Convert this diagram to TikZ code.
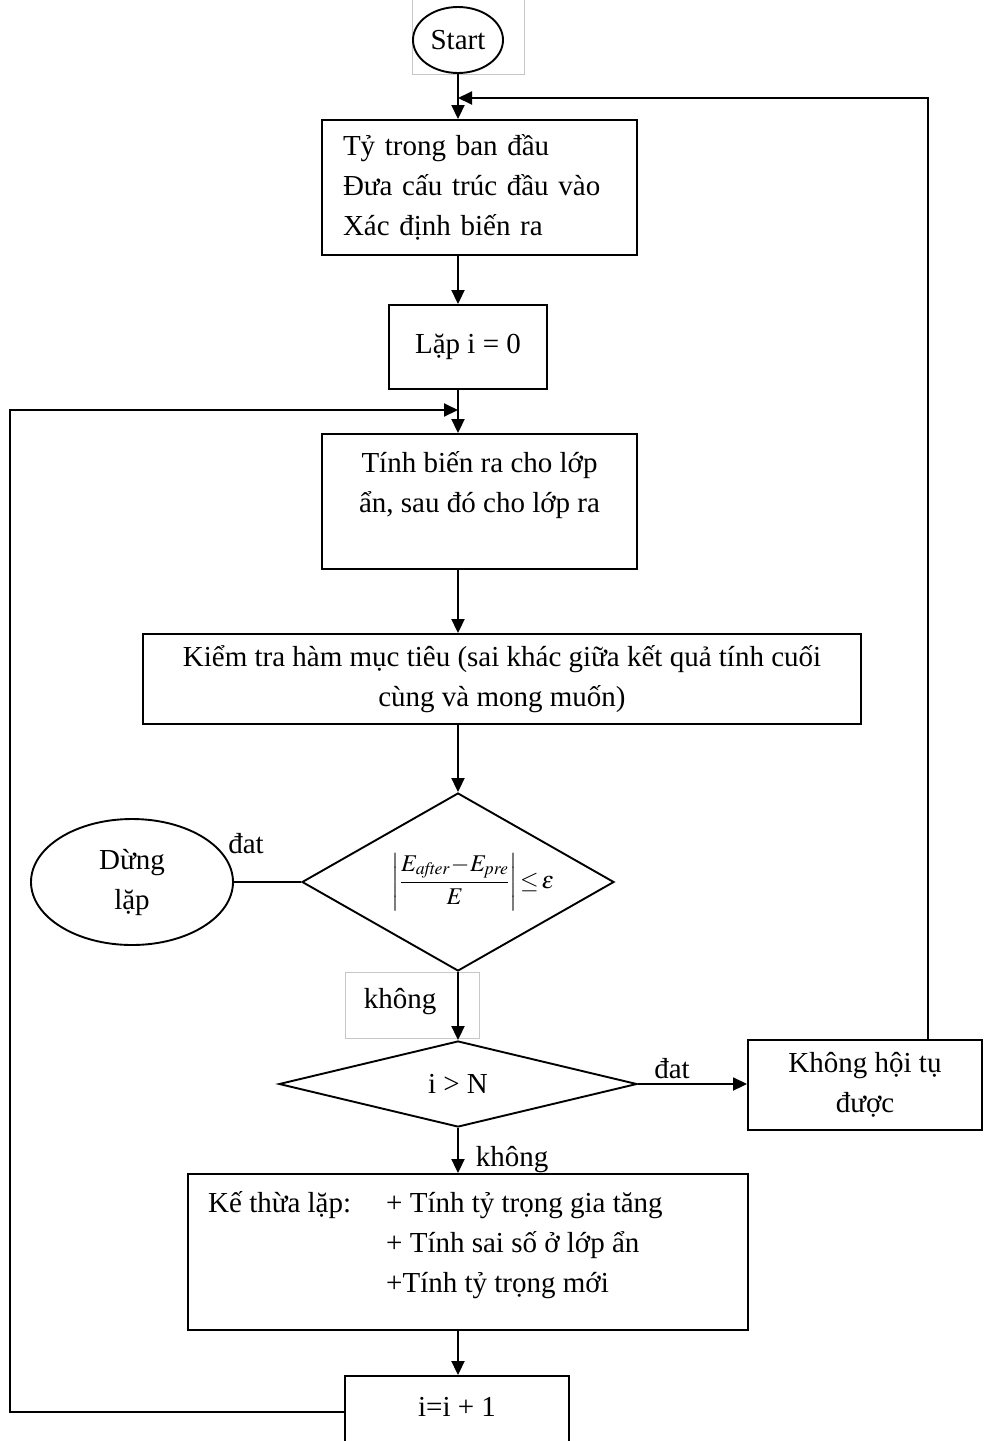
\documentclass[tikz,border=0pt]{standalone}
\usepackage{mathptmx}
\usepackage[no-math]{fontspec}
\setmainfont{Liberation Serif}
\usetikzlibrary{shapes.geometric,arrows.meta}
\begin{document}
\begin{tikzpicture}[x=1pt,y=-1pt,
  every node/.style={font=\fontsize{29}{40}\selectfont},
  box/.style={draw, line width=1.9pt, inner sep=0pt},
  arr/.style={line width=1.9pt, -{Triangle[length=14pt,width=13pt]}},
  ln/.style={line width=1.9pt},
  frame/.style={draw=black!22, line width=0.8pt, inner sep=0pt},
]
\clip (0,0) rectangle (984,1441);
\fill[white] (0,0) rectangle (984,1441);

% light frames behind the start node and the "không" label
\node[frame, minimum width=112pt, minimum height=85pt] (sframe) at (468,32) {};
\node[frame, minimum width=134pt, minimum height=66pt] (kframe) at (412,1005) {};

% vertical axis of the main flow
\coordinate (ax) at (458,0);

\node[box, ellipse, minimum width=90pt, minimum height=66pt] (start) at (458,40) {Start};

\node[box, minimum width=315pt, minimum height=135pt, text width=273pt,
      inner xsep=21pt, align=left] (b1) at (479.5,187.5)
  {Tỷ trong ban đầu\\Đưa cấu trúc đầu vào\\Xác định biến ra};

\node[box, minimum width=158pt, minimum height=84pt] (b2) at (468,347) {Lặp i = 0};

\node[box, minimum width=315pt, minimum height=135pt, align=center] (b3) at (479.5,501.5)
  {Tính biến ra cho lớp\\ẩn, sau đó cho lớp ra\\\mbox{}};

\node[box, minimum width=718pt, minimum height=90pt, align=center] (b4) at (502,679)
  {Kiểm tra hàm mục tiêu (sai khác giữa kết quả tính cuối\\cùng và mong muốn)};

\node[box, diamond, shape aspect=1.75, minimum width=312pt, minimum height=178pt,
      font=\fontsize{24}{28}\selectfont] (d1) at (458,882)
  {\hspace*{30pt}$\displaystyle\left|\frac{E_{\mathit{after}}\!-\!E_{\mathit{pre}}}{E}\right|\!\leq\!\varepsilon$};

\node[box, ellipse, minimum width=202pt, minimum height=126pt, align=center] (stop) at (132,882)
  {Dừng\\lặp};

\node[box, diamond, shape aspect=4.16, minimum width=358pt, minimum height=86pt] (d2) at (458,1084)
  {i > N};

\node[box, minimum width=234pt, minimum height=90pt, align=center] (b5) at (865,1085)
  {Không hội tụ\\được};

\node[box, minimum width=560pt, minimum height=156pt] (b6) at (468,1252) {};
\node[anchor=base west, inner sep=0pt] (b6t) at (208,1212)
  {\begin{tabular}[t]{@{}p{178pt}@{}l@{}}Kế thừa lặp: & + Tính tỷ trọng gia tăng\\
   & + Tính sai số ở lớp ẩn\\ & +Tính tỷ trọng mới\end{tabular}};

\node[box, minimum width=224pt, minimum height=72pt] (b7) at (457,1412) {};
\node (b7t) at (457,1407) {i=i + 1};

% edge labels
\node (l1) at (246,844) {đat};
\node (l2) at (400,1002) {không};
\node (l3) at (672,1069) {đat};
\node (l4) at (512,1160) {không};

% connectors
\coordinate (j1) at (458,98);
\coordinate (j2) at (458,410);
\coordinate (lx) at (10,410);

\draw[arr] (start) -- (b1.north -| ax);
\draw[arr] ([xshift=63pt]b5.north) |- (j1);
\draw[arr] (b1.south -| ax) -- (b2.north -| ax);
\draw[arr] (b2.south -| ax) -- (b3.north -| ax);
\draw[arr] (b7.west) -| (lx) -- (j2);
\draw[arr] (b3.south -| ax) -- (b4.north -| ax);
\draw[arr] (b4.south -| ax) -- (d1.north);
\draw[ln] (d1.west) -- (d1.west -| stop.east);
\draw[arr] (d1.south) -- (d2.north);
\draw[arr] (d2.east) -- (d2.east -| b5.west);
\draw[arr] (d2.south) -- (b6.north -| ax);
\draw[arr] (b6.south -| ax) -- (b7.north -| ax);
\end{tikzpicture}
\end{document}
